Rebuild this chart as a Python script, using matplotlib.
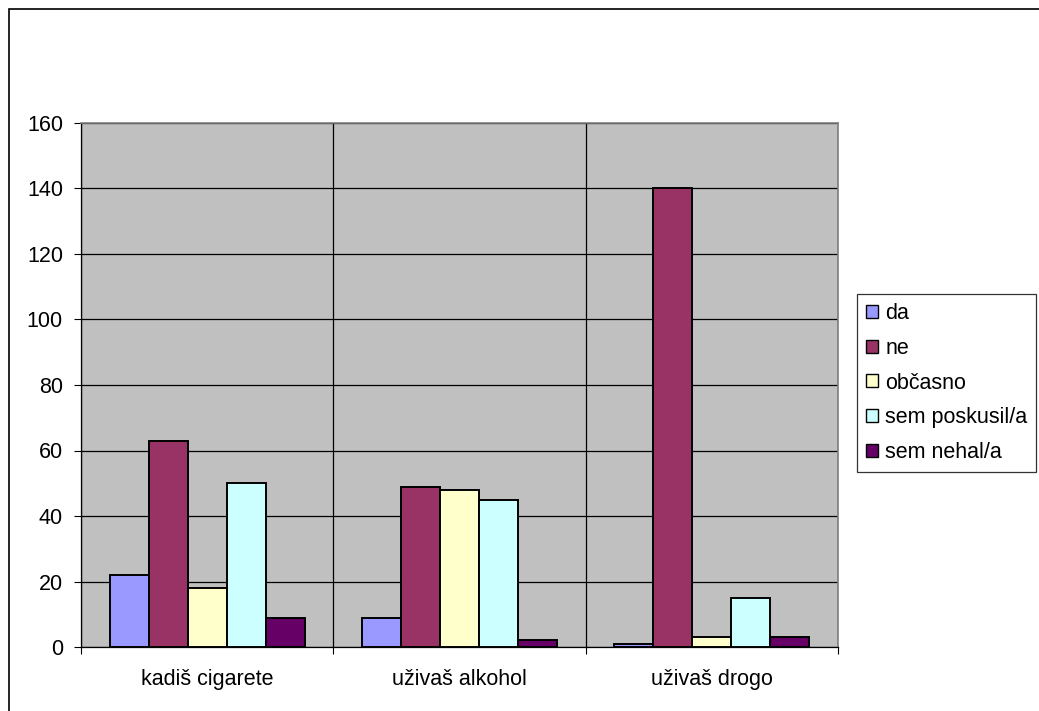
import matplotlib
matplotlib.use("Agg")
import matplotlib.pyplot as plt
import numpy as np
from matplotlib.patches import Rectangle, Patch

plt.rcParams['font.family'] = ['Liberation Sans', 'DejaVu Sans']

categories = ["kadiš cigarete", "uživaš alkohol", "uživaš drogo"]
series_names = ["da", "ne", "občasno", "sem poskusil/a", "sem nehal/a"]
values_da = [22, 9, 1]
values_ne = [63, 49, 140]
values_obcasno = [18, 48, 3]
values_poskusil = [50, 45, 15]
values_nehal = [9, 2, 3]
series_values = [values_da, values_ne, values_obcasno, values_poskusil, values_nehal]
colors = ["#9999FF", "#993366", "#FFFFCC", "#CCFFFF", "#660066"]
y_ticks = [0, 20, 40, 60, 80, 100, 120, 140, 160]

W, H = 1039, 711
FS = 15.5
fig = plt.figure(figsize=(W / 100, H / 100), dpi=100)
fig.patch.set_facecolor("white")

# outer chart border
fig.patches.append(Rectangle((8.5 / W, -0.1), 1.2, 1 - 8.5 / H + 0.1,
                             transform=fig.transFigure, fill=False,
                             edgecolor="black", linewidth=1.2, zorder=0))

left, right, top, bottom = 81, 838, 123, 647
ax = fig.add_axes([left / W, 1 - bottom / H, (right - left) / W, (bottom - top) / H])
ax.set_facecolor("#C0C0C0")

x = np.arange(len(categories))
n = len(series_names)
bw = 0.1546
for i, (name, vals, col) in enumerate(zip(series_names, series_values, colors)):
    ax.bar(x + (i - (n - 1) / 2) * bw, vals, width=bw, color=col,
           edgecolor="black", linewidth=1.4, label=name, zorder=3)

ax.set_xlim(-0.5, len(categories) - 0.5)
ax.set_ylim(0, 160)

ax.set_yticks(y_ticks)
ax.set_yticklabels([str(v) for v in y_ticks], fontsize=FS)
ax.tick_params(axis="y", which="major", direction="out", length=5, width=0.8,
               pad=8, color="black")

ax.set_xticks(x)
ax.set_xticklabels(categories, fontsize=FS)
ax.tick_params(axis="x", which="major", length=0, pad=16)
ax.set_xticks(np.arange(-0.5, len(categories)), minor=True)
ax.tick_params(axis="x", which="minor", direction="out", length=5, width=0.8,
               color="black")

ax.grid(axis="y", which="major", color="black", linewidth=0.9, zorder=1)
ax.grid(axis="x", which="minor", color="black", linewidth=0.9, zorder=1)
ax.set_axisbelow(True)

for side in ["left", "bottom"]:
    ax.spines[side].set_color("black")
    ax.spines[side].set_linewidth(0.9)
for side in ["top", "right"]:
    ax.spines[side].set_color("#808080")
    ax.spines[side].set_linewidth(1.2)

handles = [Patch(facecolor=c, edgecolor="black", linewidth=1.0) for c in colors]
leg = fig.legend(handles, series_names, loc="upper left",
                 bbox_to_anchor=(857 / W, 1 - 294 / H, (1036 - 857) / W, 0.0),
                 mode="expand", fontsize=FS, frameon=True, fancybox=False,
                 handlelength=0.55, handleheight=0.55, handletextpad=0.35,
                 labelspacing=0.64, borderpad=0.42, borderaxespad=0.0)
leg.get_frame().set_edgecolor("black")
leg.get_frame().set_linewidth(0.9)

fig.savefig("out.png", dpi=100)
